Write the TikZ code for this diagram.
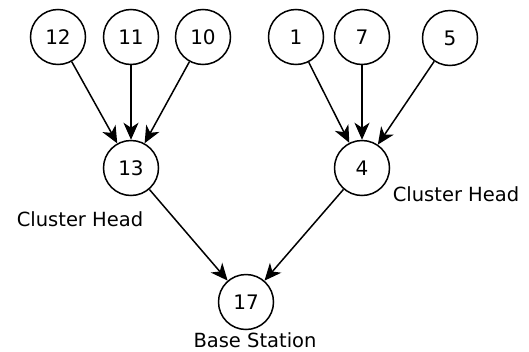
\documentclass[tikz,border=0pt]{standalone}
\usepackage{fontspec}
\setmainfont{DejaVu Sans}
\usetikzlibrary{arrows.meta}
\begin{document}
\begin{tikzpicture}[x=1pt,y=-1pt,
  nd/.style={circle,draw,line width=1.5pt,minimum size=55pt,inner sep=0pt,font=\fontsize{20}{22}\selectfont},
  lbl/.style={font=\fontsize{19.5}{22}\selectfont,inner sep=0pt},
  arr/.style={line width=1.5pt,-{Stealth[length=17pt,width=15pt,inset=5pt]}}]
\useasboundingbox (0,0) rectangle (529,351);
\node[nd] (n12) at (58,37) {12};
\node[nd] (n11) at (131,37) {11};
\node[nd] (n10) at (203,37) {10};
\node[nd] (n1) at (296,37) {1};
\node[nd] (n7) at (362,37) {7};
\node[nd] (n5) at (450,38) {5};
\node[nd] (n13) at (131,168) {13};
\node[nd] (n4) at (362,168) {4};
\node[nd] (n17) at (246,302) {17};
\node[lbl] (l13) at (80,219) {Cluster Head};
\node[lbl] (l4) at (456,194) {Cluster Head};
\node[lbl] (l17) at (255,340) {Base Station};
\draw[arr] (n12) -- (n13);
\draw[arr] (n11) -- (n13);
\draw[arr] (n10) -- (n13);
\draw[arr] (n1) -- (n4);
\draw[arr] (n7) -- (n4);
\draw[arr] (n5) -- (n4);
\draw[arr] (n13) -- (n17);
\draw[arr] (n4) -- (n17);
\end{tikzpicture}
\end{document}
